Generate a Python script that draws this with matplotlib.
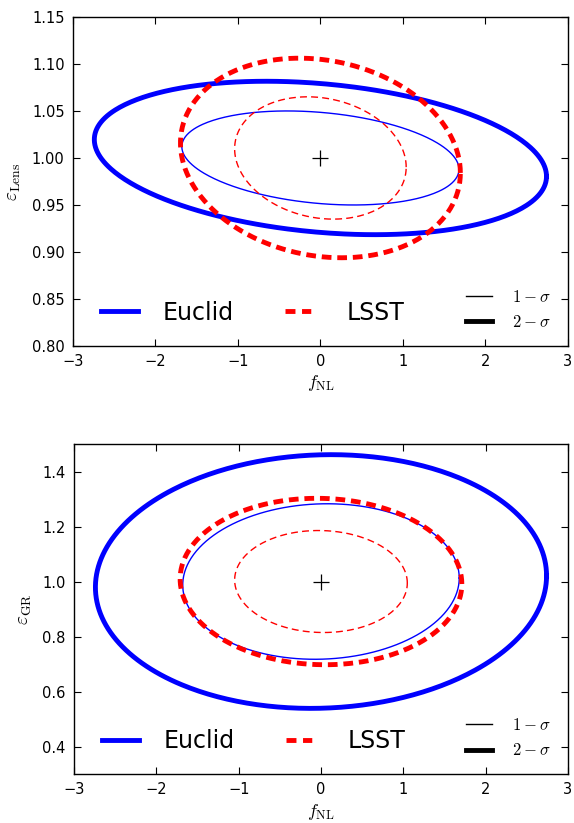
import numpy as np
import matplotlib
matplotlib.use("Agg")
import matplotlib.pyplot as plt
from matplotlib.lines import Line2D

plt.rcParams['mathtext.fontset'] = 'cm'
plt.rcParams['font.family'] = ['DejaVu Sans']

# Fiducial point
center_fnl = 0.0
center_eps = 1.0

# Confidence-level scalings (1-sigma, 2-sigma for 2 parameters)
levels = [1.52, 2.48]

# Panel 1: (f_NL, eps_Lens) marginal errors and correlation
lens_euclid = dict(sx=1.105, sy=0.0329, rho=-0.24)
lens_lsst = dict(sx=0.684, sy=0.0428, rho=-0.15)

# Panel 2: (f_NL, eps_GR)
gr_euclid = dict(sx=1.105, sy=0.186, rho=0.045)
gr_lsst = dict(sx=0.690, sy=0.122, rho=-0.03)

x_ticks = [-3, -2, -1, 0, 1, 2, 3]
lens_yticks = [0.80, 0.85, 0.90, 0.95, 1.00, 1.05, 1.10, 1.15]
gr_yticks = [0.4, 0.6, 0.8, 1.0, 1.2, 1.4]


def ellipse(p, alpha, n=400):
    cov = np.array([[p['sx']**2, p['rho']*p['sx']*p['sy']],
                    [p['rho']*p['sx']*p['sy'], p['sy']**2]])
    L = np.linalg.cholesky(cov)
    t = np.linspace(0, 2*np.pi, n)
    circ = np.vstack([np.cos(t), np.sin(t)]) * alpha
    pts = L @ circ
    return center_fnl + pts[0], center_eps + pts[1]


def draw(ax, euc, lsst):
    lws = [1.0, 3.5]
    for lev, lw in zip(levels, lws):
        x, y = ellipse(euc, lev)
        ax.plot(x, y, color='blue', lw=lw, solid_joinstyle='round')
    for lev, lw, ds in zip(levels, lws, [(5, 3), (2.0, 1.2)]):
        x, y = ellipse(lsst, lev)
        l, = ax.plot(x, y, color='red', lw=lw, linestyle='--')
        l.set_dashes(ds)
    ax.plot([center_fnl], [center_eps], marker='+', color='k', ms=11, mew=0.9)
    ax.tick_params(direction='in', top=True, right=True, length=5, width=0.8,
                   labelsize=10.5, pad=6)
    for s in ax.spines.values():
        s.set_linewidth(1.0)
    ax.set_xlim(-3, 3)
    ax.set_xticks(x_ticks)
    ax.set_xlabel(r'$f_{\rm NL}$', fontsize=13, labelpad=3)

    h1 = Line2D([], [], color='blue', lw=3.5)
    h2 = Line2D([], [], color='red', lw=3.5, linestyle='--',
                dashes=(2.05, 1.35, 1.9, 10))
    leg1 = ax.legend([h1, h2], ['Euclid', 'LSST'], loc='lower left', ncol=2,
                     frameon=False, fontsize=17, handlelength=1.57,
                     columnspacing=2.16, handletextpad=1.06,
                     bbox_to_anchor=(0.013, 0.0))
    ax.add_artist(leg1)
    k1 = Line2D([], [], color='k', lw=1.0)
    k2 = Line2D([], [], color='k', lw=3.5)
    ax.legend([k1, k2], [r'$1-\sigma$', r'$2-\sigma$'], loc='lower right',
              frameon=False, fontsize=12, handlelength=1.56, handletextpad=1.2,
              labelspacing=0.45, bbox_to_anchor=(0.995, -0.001))


fig = plt.figure(figsize=(5.74, 8.23), dpi=100)
ax1 = fig.add_axes([0.127, 0.5796, 0.8624, 0.3998])
ax2 = fig.add_axes([0.129, 0.0595, 0.8604, 0.401])

draw(ax1, lens_euclid, lens_lsst)
ax1.set_ylim(0.80, 1.15)
ax1.set_yticks(lens_yticks)
ax1.set_yticklabels(['%.2f' % v for v in lens_yticks])
ax1.set_ylabel(r'$\varepsilon_{\rm Lens}$', fontsize=14, labelpad=6)

draw(ax2, gr_euclid, gr_lsst)
ax2.set_ylim(0.3, 1.5)
ax2.set_yticks(gr_yticks)
ax2.set_yticklabels(['%.1f' % v for v in gr_yticks])
ax2.set_ylabel(r'$\varepsilon_{\rm GR}$', fontsize=14, labelpad=6)

fig.savefig('out.png', dpi=100)
